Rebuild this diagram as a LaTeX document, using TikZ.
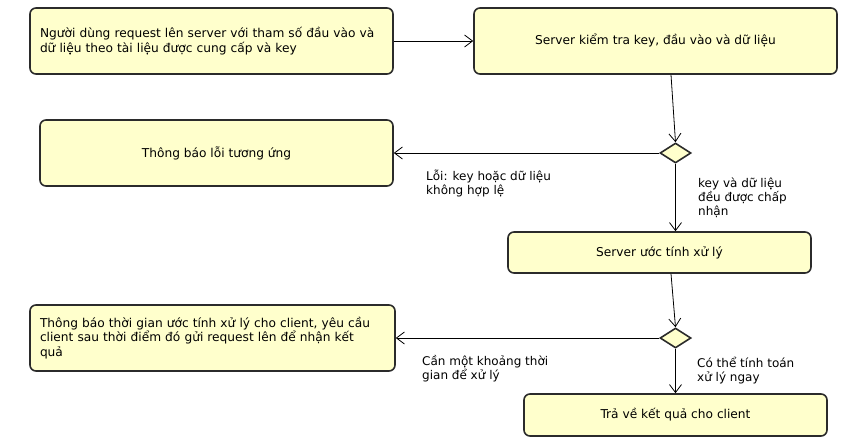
\documentclass[tikz,border=0pt]{standalone}
\usepackage{fontspec}
\setmainfont{DejaVu Sans}
\usetikzlibrary{shapes.geometric, arrows.meta}
\definecolor{actfill}{HTML}{FFFFCC}
\definecolor{actline}{HTML}{2B2B2B}

\tikzset{
    box/.style={draw=actline, line width=1.6pt, fill=actfill, rounded corners=6pt, inner sep=0pt, font=\fontsize{12.2}{14.5}\selectfont},
    decision/.style={diamond, draw=actline, line width=1.6pt, fill=actfill, inner sep=0pt, minimum width=31pt, minimum height=20pt},
    lbl/.style={inner sep=0pt, anchor=west, align=left, font=\fontsize{12}{14}\selectfont},
    arr/.style={-{Straight Barb[length=8pt,width=12pt]}, line width=0.8pt}
}

\begin{document}
\begin{tikzpicture}[x=1pt, y=-1pt]
        \useasboundingbox (0,0) rectangle (851,445);
        \node[box, minimum width=363pt, minimum height=66pt, text width=343pt, align=left] (A) at (211.5,41) {Người dùng request lên server với tham số đầu vào và\\dữ liệu theo tài liệu được cung cấp và key};
        \node[box, minimum width=363pt, minimum height=66pt] (B) at (655.5,41) {Server kiểm tra key, đầu vào và dữ liệu};
        \node[decision] (D1) at (675.5,153) {};
        \node[box, minimum width=353pt, minimum height=66pt] (C) at (216.5,153) {Thông báo lỗi tương ứng};
        \node[box, minimum width=303pt, minimum height=41pt] (E) at (659.5,252.5) {Server ước tính xử lý};
        \node[decision] (D2) at (675.5,338) {};
        \node[box, minimum width=365pt, minimum height=66pt, text width=345pt, align=left] (F) at (212.5,338) {Thông báo thời gian ước tính xử lý cho client, yêu cầu\\client sau thời điểm đó gửi request lên để nhận kết\\quả};
        \node[box, minimum width=303pt, minimum height=42pt] (G) at (675.5,415) {Trả về kết quả cho client};
        % guard labels
        \node[lbl] (L1) at (426,183.5) {Lỗi: key hoặc dữ liệu\\không hợp lệ};
        \node[lbl] (L2) at (698,198) {key và dữ liệu\\đều được chấp\\nhận};
        \node[lbl] (L3) at (422,369) {Cần một khoảng thời\\gian để xử lý};
        \node[lbl] (L4) at (697,371) {Có thể tính toán\\xử lý ngay};

        \draw[arr] (A.east) -- (B.west);
        \draw[arr] ([xshift=15.5pt]B.south) -- (D1.north);
        \draw[arr] (D1.west) -- (C.east);
        \draw[arr] (D1.south) -- (E.north -| D1.south);
        \draw[arr] ([xshift=11.5pt]E.south) -- (D2.north);
        \draw[arr] (D2.west) -- (F.east);
        \draw[arr] (D2.south) -- (G.north);
    \end{tikzpicture}
\end{document}
